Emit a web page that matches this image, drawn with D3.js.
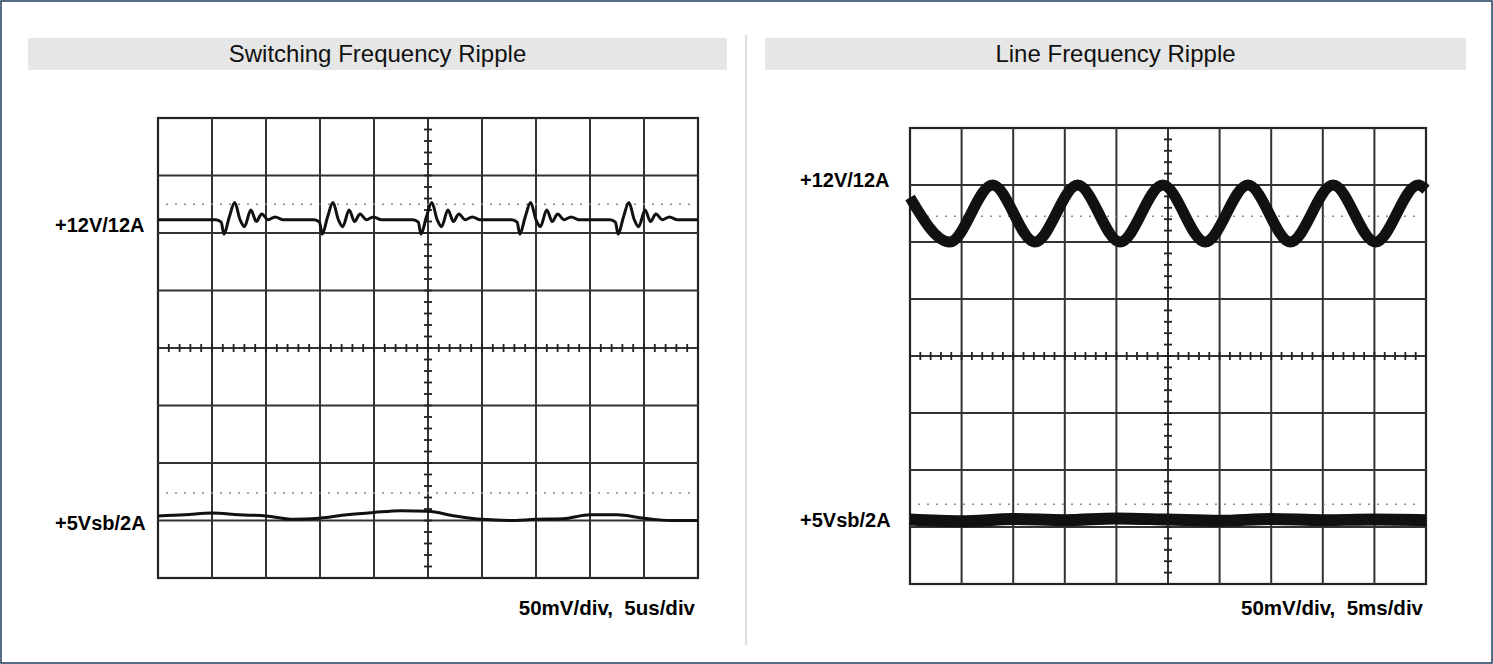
<!DOCTYPE html>
<meta charset="utf-8">
<style>
  body{ margin:0; background:#fff; font-family:"Liberation Sans", Arial, sans-serif; }
  svg{ display:block; }
</style>
<body>
<script src="https://cdn.jsdelivr.net/npm/d3@7"></script>
<script>
// panel titles, labels
var titles = ["Switching Frequency Ripple", "Line Frequency Ripple"];
var scaleLabels = ["50mV/div,  5us/div", "50mV/div,  5ms/div"];
var chLabels = ["+12V/12A", "+5Vsb/2A"];

// values in divisions: x 0..10, y -4..4 (0 = screen centre)
// switching: 12V baseline, ringing event times and one event shape [dt, dy]
var sw12Base = 2.23;
var sw12Events = [1.22, 3.04, 4.87, 6.70, 8.52];
var sw12Shape = [[-0.15,0],[-0.05,-0.04],[0,-0.25],[0.1,0.05],[0.2,0.3],[0.3,0.0],[0.38,-0.12],[0.5,0.17],[0.6,-0.03],[0.7,0.1],[0.82,0],[0.95,0.05],[1.1,0]];
var sw12Ref = 2.5;
var sw5 = [[0,-2.92],[0.5,-2.9],[1,-2.87],[1.5,-2.9],[2,-2.92],[2.5,-2.98],[3,-2.96],[3.5,-2.9],[4,-2.86],[4.5,-2.83],[5,-2.84],[5.5,-2.92],[6,-2.98],[6.5,-3.0],[7,-2.98],[7.5,-2.97],[8,-2.9],[8.5,-2.9],[9,-2.96],[9.5,-3.0],[10,-3.0]];
var sw5Ref = -2.52;
// line frequency: sine extrema
var ln12 = [[0,2.78],[0.77,2.0],[1.6,3.0],[2.42,2.0],[3.25,3.0],[4.07,2.0],[4.9,3.0],[5.72,2.0],[6.55,3.0],[7.37,2.0],[8.2,3.0],[9.02,2.0],[9.85,3.0],[10,2.92]];
var ln12Ref = 2.45;
var ln5 = [[0,-2.87],[1,-2.9],[2,-2.86],[3,-2.88],[4,-2.85],[5,-2.87],[6,-2.89],[7,-2.86],[8,-2.88],[9,-2.87],[10,-2.88]];
var ln5Ref = -2.6;

var W = 1493, H = 664;
var svg = d3.select("body").append("svg").attr("width", W).attr("height", H);
svg.append("rect").attr("x",1).attr("y",1).attr("width",W-2).attr("height",H-2)
  .attr("fill","#fff").attr("stroke","#1f3b5c").attr("stroke-width",1.5);
svg.append("line").attr("x1",746).attr("x2",746).attr("y1",35).attr("y2",645)
  .attr("stroke","#bfbfbf");

// title bars
[[28,727],[765,1466]].forEach(function(b,i){
  svg.append("rect").attr("x",b[0]).attr("y",38).attr("width",b[1]-b[0]).attr("height",32).attr("fill","#e6e6e6");
  svg.append("text").attr("x",(b[0]+b[1])/2).attr("y",62).attr("text-anchor","middle")
    .style("font-size","24px").attr("fill","#111").text(titles[i]);
});

function swTrace(){
  var pts = [[0, sw12Base]];
  sw12Events.forEach(function(t){
    sw12Shape.forEach(function(p){ pts.push([t+p[0], sw12Base+p[1]]); });
  });
  pts.push([10, sw12Base]);
  return pts;
}

function scope(o){
  var x = d3.scaleLinear().domain([0,10]).range([o.x0,o.x1]);
  var y = d3.scaleLinear().domain([-4,4]).range([o.y1,o.y0]);
  var g = svg.append("g");
  g.append("rect").attr("x",o.x0).attr("y",o.y0).attr("width",o.x1-o.x0).attr("height",o.y1-o.y0)
    .attr("fill","#fff").attr("stroke","#222").attr("stroke-width",2.2);
  d3.range(1,10).forEach(function(i){
    g.append("line").attr("x1",x(i)).attr("x2",x(i)).attr("y1",o.y0).attr("y2",o.y1)
      .attr("stroke","#333").attr("stroke-width",2);
  });
  d3.range(-3,4).forEach(function(i){
    g.append("line").attr("x1",o.x0).attr("x2",o.x1).attr("y1",y(i)).attr("y2",y(i))
      .attr("stroke","#333").attr("stroke-width",2);
  });
  // minor ticks on centre axes
  d3.range(0,10.01,0.2).forEach(function(v){
    g.append("line").attr("x1",x(v)).attr("x2",x(v)).attr("y1",y(0)-4).attr("y2",y(0)+4)
      .attr("stroke","#222").attr("stroke-width",1.8);
  });
  d3.range(-4,4.01,0.2).forEach(function(v){
    g.append("line").attr("x1",x(5)-4).attr("x2",x(5)+4).attr("y1",y(v)).attr("y2",y(v))
      .attr("stroke","#222").attr("stroke-width",1.8);
  });
  // dotted reference lines
  [o.ref12, o.ref5].forEach(function(r){
    g.append("line").attr("x1",o.x0+8).attr("x2",o.x1-4).attr("y1",y(r)).attr("y2",y(r))
      .attr("stroke","#888").attr("stroke-width",1.5).attr("stroke-dasharray","2 7");
  });
  var line = d3.line().x(function(d){return x(d[0]);}).y(function(d){return y(d[1]);}).curve(o.curve);
  g.append("path").datum(o.t12).attr("d",line).attr("fill","none").attr("stroke","#111")
    .attr("stroke-width",o.w12).attr("stroke-linejoin","round");
  g.append("path").datum(o.t5).attr("d",line).attr("fill","none").attr("stroke","#111")
    .attr("stroke-width",o.w5);
  svg.append("text").attr("x",o.lx).attr("y",o.l12y).style("font-size","20px").style("font-weight","bold").text(chLabels[0]);
  svg.append("text").attr("x",o.lx).attr("y",o.l5y).style("font-size","20px").style("font-weight","bold").text(chLabels[1]);
  svg.append("text").attr("x",o.x1-3).attr("y",615).attr("text-anchor","end").style("font-size","20.5px")
    .style("font-weight","bold").attr("xml:space","preserve").text(o.scaleLabel);
}

scope({x0:158,x1:698,y0:118,y1:578,t12:swTrace(),t5:sw5,ref12:sw12Ref,ref5:sw5Ref,
  curve:d3.curveMonotoneX,w12:3,w5:3,lx:55,l12y:232,l5y:530,scaleLabel:scaleLabels[0]});
scope({x0:910,x1:1426,y0:128,y1:584,t12:ln12,t5:ln5,ref12:ln12Ref,ref5:ln5Ref,
  curve:d3.curveMonotoneX,w12:11,w5:12,lx:800,l12y:187,l5y:527,scaleLabel:scaleLabels[1]});
</script>
</body>
